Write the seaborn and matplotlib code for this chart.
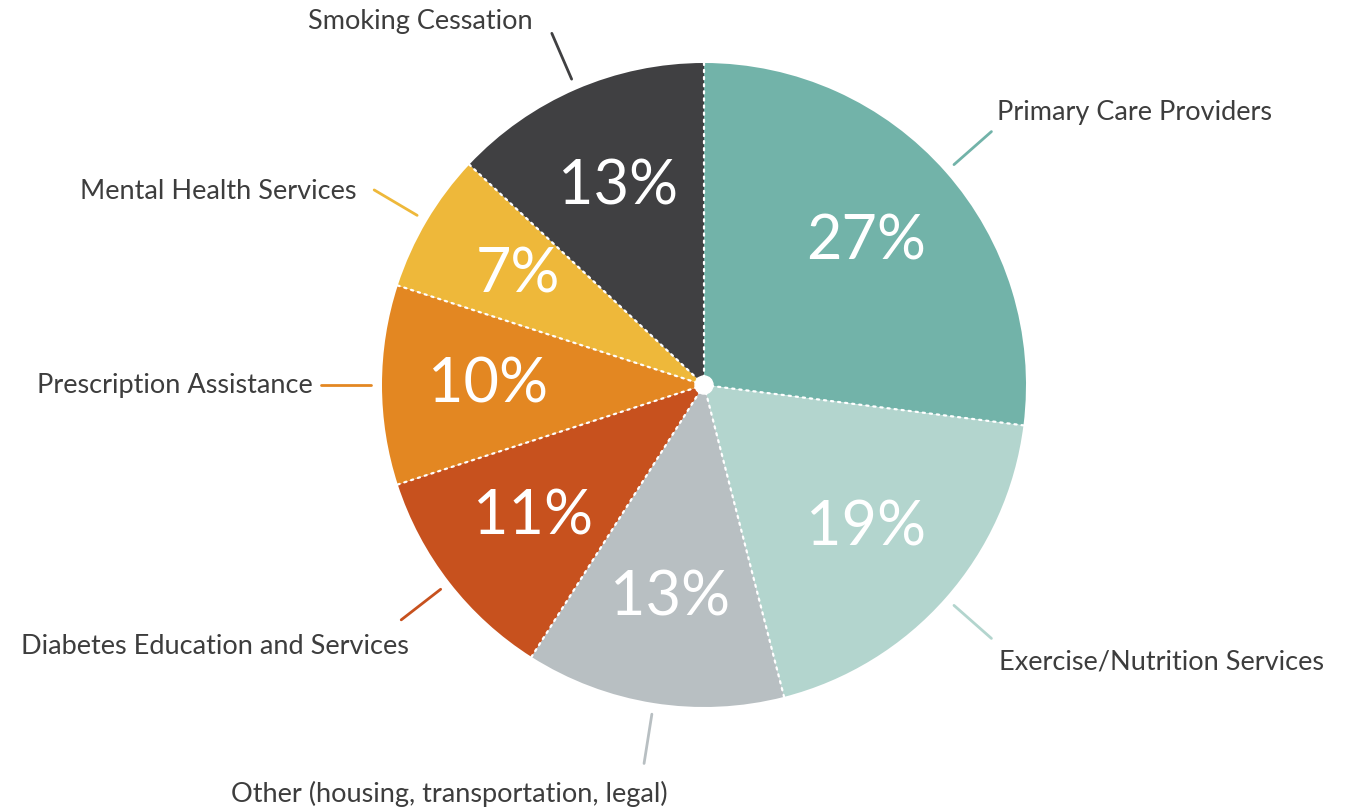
import numpy as np
import matplotlib.pyplot as plt
import seaborn as sns

# data (clockwise from 12 o'clock)
categories = ['Primary Care Providers', 'Exercise/Nutrition Services',
              'Other (housing, transportation, legal)', 'Diabetes Education and Services',
              'Prescription Assistance', 'Mental Health Services', 'Smoking Cessation']
shares = [27, 19, 13, 11, 10, 7, 13]
colors = ['#72b3a9', '#b3d5ce', '#b8bfc2', '#c7511e', '#e38722', '#eeb83a', '#404042']

sns.set_theme(style='white')
plt.rcParams['font.family'] = ['Lato', 'DejaVu Sans']

W, H = 1345, 811
cx, cy, R = 704, 385, 322  # pie centre / radius in pixels

fig = plt.figure(figsize=(W / 100, H / 100), dpi=100)
ax = fig.add_axes([0, 0, 1, 1])

wedges, texts, autotexts = ax.pie(
    shares, colors=colors, startangle=90, counterclock=False, radius=1,
    autopct='%d%%', pctdistance=0.67,
    wedgeprops=dict(linewidth=0),
    textprops=dict(color='white', fontsize=44, fontweight='normal'))

# pie() resets the limits, so set them afterwards
ax.set_xlim(-cx / R, (W - cx) / R)
ax.set_ylim(-(H - cy) / R, cy / R)
ax.set_aspect('equal')
ax.axis('off')

# dotted white separators
bounds = 90 - 3.6 * np.concatenate([[0], np.cumsum(shares)[:-1]])
for a in np.radians(bounds):
    ax.plot([0, np.cos(a)], [0, np.sin(a)], color='white', lw=1.6,
            ls=(0, (1, 2.2)), solid_capstyle='round', dash_capstyle='round')
ax.add_patch(plt.Circle((0, 0), 0.028, color='white', zorder=5))

# leader lines + labels
mids = 90 - 3.6 * (np.cumsum(shares) - np.array(shares) / 2)
label_style = [  # ha, va, offset in px
    ('left', 'bottom', (6, 7)),
    ('left', 'top', (8, -11)),
    ('right', 'top', (24, -17)),
    ('right', 'top', (8, -14)),
    ('right', 'center', (-8, 0)),
    ('right', 'baseline', (-18, -9)),
    ('right', 'bottom', (-19, -1)),
]
for name, ang, col, (ha, va, off) in zip(categories, np.radians(mids), colors, label_style):
    x0, y0 = 1.035 * np.cos(ang), 1.035 * np.sin(ang)
    x1, y1 = 1.19 * np.cos(ang), 1.19 * np.sin(ang)
    ax.plot([x0, x1], [y0, y1], color=col, lw=2)
    ax.annotate(name, (x1, y1), xytext=(off[0] * 0.72, off[1] * 0.72),
                textcoords='offset points', ha=ha, va=va,
                fontsize=19.5, color='#3d3d3d')

fig.savefig('out.png', dpi=100, facecolor='white')
